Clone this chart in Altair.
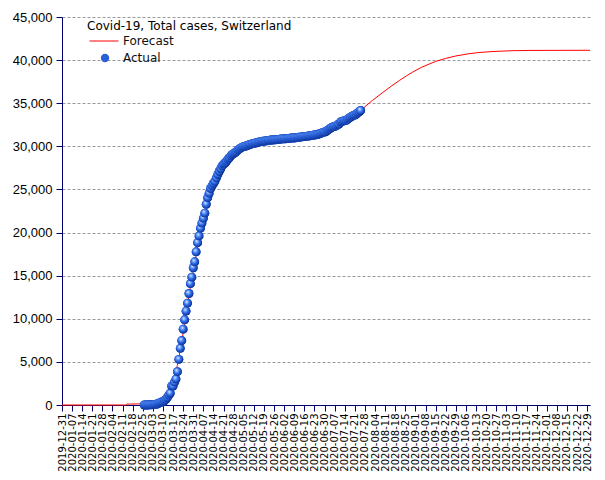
import altair as alt
import pandas as pd

# ---------------- data ----------------
actual_dates = [
    "2020-02-26", "2020-02-27", "2020-02-28", "2020-02-29", "2020-03-01", "2020-03-02", "2020-03-03",
    "2020-03-04", "2020-03-05", "2020-03-06", "2020-03-07", "2020-03-08", "2020-03-09", "2020-03-10",
    "2020-03-11", "2020-03-12", "2020-03-13", "2020-03-14", "2020-03-15", "2020-03-16", "2020-03-17",
    "2020-03-18", "2020-03-19", "2020-03-20", "2020-03-21", "2020-03-22", "2020-03-23", "2020-03-24",
    "2020-03-25", "2020-03-26", "2020-03-27", "2020-03-28", "2020-03-29", "2020-03-30", "2020-03-31",
    "2020-04-01", "2020-04-02", "2020-04-03", "2020-04-04", "2020-04-05", "2020-04-06", "2020-04-07",
    "2020-04-08", "2020-04-09", "2020-04-10", "2020-04-11", "2020-04-12", "2020-04-13", "2020-04-14",
    "2020-04-15", "2020-04-16", "2020-04-17", "2020-04-18", "2020-04-19", "2020-04-20", "2020-04-21",
    "2020-04-22", "2020-04-23", "2020-04-24", "2020-04-25", "2020-04-26", "2020-04-27", "2020-04-28",
    "2020-04-29", "2020-04-30", "2020-05-01", "2020-05-02", "2020-05-03", "2020-05-04", "2020-05-05",
    "2020-05-06", "2020-05-07", "2020-05-08", "2020-05-09", "2020-05-10", "2020-05-11", "2020-05-12",
    "2020-05-13", "2020-05-14", "2020-05-15", "2020-05-16", "2020-05-17", "2020-05-18", "2020-05-19",
    "2020-05-20", "2020-05-21", "2020-05-22", "2020-05-23", "2020-05-24", "2020-05-25", "2020-05-26",
    "2020-05-27", "2020-05-28", "2020-05-29", "2020-05-30", "2020-05-31", "2020-06-01", "2020-06-02",
    "2020-06-03", "2020-06-04", "2020-06-05", "2020-06-06", "2020-06-07", "2020-06-08", "2020-06-09",
    "2020-06-10", "2020-06-11", "2020-06-12", "2020-06-13", "2020-06-14", "2020-06-15", "2020-06-16",
    "2020-06-17", "2020-06-18", "2020-06-19", "2020-06-20", "2020-06-21", "2020-06-22", "2020-06-23",
    "2020-06-24", "2020-06-25", "2020-06-26", "2020-06-27", "2020-06-28", "2020-06-29", "2020-06-30",
    "2020-07-01", "2020-07-02", "2020-07-03", "2020-07-04", "2020-07-05", "2020-07-06", "2020-07-07",
    "2020-07-08", "2020-07-09", "2020-07-10", "2020-07-11", "2020-07-12", "2020-07-13", "2020-07-14",
    "2020-07-15", "2020-07-16", "2020-07-17", "2020-07-18", "2020-07-19", "2020-07-20", "2020-07-21",
    "2020-07-22", "2020-07-23", "2020-07-24", "2020-07-25",
]
actual_values = [
    1, 1, 1, 8, 18, 27, 42,
    56, 90, 114, 214, 268, 337, 374,
    491, 652, 858, 1139, 1359, 2200, 2200,
    2650, 3010, 3863, 5294, 6575, 7474, 8795,
    9877, 10897, 11811, 12928, 14076, 14829, 15922,
    16605, 17768, 18827, 19606, 20505, 21100, 21657,
    22253, 23280, 24051, 24551, 25107, 25415, 25688,
    25936, 26336, 26732, 27078, 27404, 27740, 27944,
    28063, 28268, 28496, 28677, 28894, 29061, 29164,
    29264, 29407, 29586, 29705, 29817, 29905, 29981,
    30009, 30060, 30126, 30207, 30251, 30305, 30344,
    30380, 30413, 30463, 30514, 30572, 30587, 30597,
    30618, 30658, 30694, 30707, 30725, 30736, 30746,
    30761, 30776, 30796, 30828, 30845, 30862, 30871,
    30874, 30893, 30913, 30936, 30956, 30965, 30972,
    30988, 31011, 31044, 31063, 31094, 31117, 31131,
    31154, 31187, 31200, 31235, 31243, 31292, 31310,
    31332, 31376, 31428, 31486, 31555, 31617, 31652,
    31714, 31851, 31967, 32101, 32198, 32268, 32315,
    32369, 32498, 32586, 32817, 32883, 32946, 32976,
    33016, 33148, 33290, 33382, 33492, 33591, 33634,
    33742, 33883, 34000, 34154,
]

forecast_dates = [
    "2019-12-31", "2020-02-13", "2020-02-14", "2020-02-28", "2020-03-04", "2020-03-08", "2020-03-11",
    "2020-03-14", "2020-03-17", "2020-03-20", "2020-03-23", "2020-03-26", "2020-03-29", "2020-04-01",
    "2020-04-04", "2020-04-07", "2020-04-10", "2020-04-14", "2020-04-19", "2020-04-25", "2020-05-02",
    "2020-05-10", "2020-05-18", "2020-05-27", "2020-06-06", "2020-06-16", "2020-06-24", "2020-07-01",
    "2020-07-08", "2020-07-15", "2020-07-22", "2020-07-27", "2020-08-02", "2020-08-09", "2020-08-15",
    "2020-08-21", "2020-08-26", "2020-08-30", "2020-09-05", "2020-09-15", "2020-09-22", "2020-09-29",
    "2020-10-08", "2020-10-15", "2020-10-24", "2020-11-07", "2020-11-20", "2020-12-31",
]
forecast_values = [
    0, 0, 100, 150, 350, 650, 1100,
    1800, 2900, 4600, 7300, 10600, 13700, 16500,
    19200, 21500, 23500, 25500, 27300, 28700, 29700,
    30200, 30400, 30600, 30800, 31050, 31300, 31750,
    32400, 33050, 33750, 34450, 35300, 36200, 36950,
    37650, 38200, 38600, 39150, 39850, 40200, 40480,
    40740, 40880, 40990, 41090, 41125, 41140,
]

x_tick_labels = [
    "2019-12-31", "2020-01-07", "2020-01-14", "2020-01-21", "2020-01-28", "2020-02-04", "2020-02-11",
    "2020-02-18", "2020-02-25", "2020-03-03", "2020-03-10", "2020-03-17", "2020-03-24", "2020-03-31",
    "2020-04-07", "2020-04-14", "2020-04-21", "2020-04-28", "2020-05-05", "2020-05-12", "2020-05-19",
    "2020-05-26", "2020-06-02", "2020-06-09", "2020-06-16", "2020-06-23", "2020-06-30", "2020-07-07",
    "2020-07-14", "2020-07-21", "2020-07-28", "2020-08-04", "2020-08-11", "2020-08-18", "2020-08-25",
    "2020-09-01", "2020-09-08", "2020-09-15", "2020-09-22", "2020-09-29", "2020-10-06", "2020-10-13",
    "2020-10-20", "2020-10-27", "2020-11-03", "2020-11-10", "2020-11-17", "2020-11-24", "2020-12-01",
    "2020-12-08", "2020-12-15", "2020-12-22", "2020-12-29",
]
y_tick_values = [0, 5000, 10000, 15000, 20000, 25000, 30000, 35000, 40000, 45000]
x_domain = ["2019-12-31", "2020-12-31"]


def to_ms(s):
    return int(pd.Timestamp(s, tz="UTC").value // 10**6)


actual_df = pd.DataFrame({"date": actual_dates, "cases": actual_values, "series": "Actual"})
forecast_df = pd.DataFrame({"date": forecast_dates, "cases": forecast_values, "series": "Forecast"})

NAVY = "#00006e"

x_enc = alt.X(
    "date:T",
    title=None,
    scale=alt.Scale(type="utc", domain=[to_ms(d) for d in x_domain]),
    axis=alt.Axis(
        values=[to_ms(d) for d in x_tick_labels],
        format="%Y-%m-%d",
        labelAngle=270,
        labelFont="DejaVu Sans",
        labelFontSize=10,
        labelFontWeight="normal",
        labelColor="black",
        labelPadding=2,
        labelOverlap=False,
        labelFlush=False,
        tickSize=6,
        tickColor=NAVY,
        domainColor=NAVY,
        grid=False,
    ),
)
y_enc = alt.Y(
    "cases:Q",
    title=None,
    scale=alt.Scale(domain=[0, 45000], nice=False, zero=True),
    axis=alt.Axis(
        values=y_tick_values,
        format=",d",
        labelFont="Liberation Sans",
        labelFontSize=13,
        labelColor="black",
        labelPadding=4,
        tickSize=6,
        tickColor=NAVY,
        domainColor=NAVY,
        grid=True,
        gridColor="#9a9a9a",
        gridDash=[3, 2],
        gridWidth=1,
    ),
)

forecast_line = alt.Chart(forecast_df).mark_line(strokeWidth=1).encode(
    x=x_enc,
    y=y_enc,
    stroke=alt.Stroke(
        "series:N",
        scale=alt.Scale(domain=["Forecast"], range=["#ff0000"]),
        legend=alt.Legend(
            title="Covid-19, Total cases, Switzerland",
            orient="none",
            legendX=25,
            legendY=4,
            padding=0,
            titleFont="DejaVu Sans",
            titleFontSize=12,
            titleFontWeight="normal",
            titleColor="black",
            titleLimit=400,
            titlePadding=-7,
            labelFont="DejaVu Sans",
            labelFontSize=12,
            labelColor="#111111",
            labelOffset=4,
            symbolType="stroke",
            symbolSize=841,
            symbolStrokeWidth=1,
            symbolOffset=2,
        ),
    ),
)

actual_base = alt.Chart(actual_df).mark_circle(size=80, opacity=1).encode(
    x=x_enc,
    y=y_enc,
    fill=alt.Fill(
        "series:N",
        scale=alt.Scale(domain=["Actual"], range=["#2a5fd8"]),
        legend=alt.Legend(
            title=None,
            orient="none",
            legendX=37,
            legendY=35,
            padding=0,
            labelFont="DejaVu Sans",
            labelFontSize=12,
            labelColor="#111111",
            labelOffset=12,
            symbolType="circle",
            symbolSize=70,
            symbolOffset=0,
        ),
    ),
)

sphere = alt.RadialGradient(
    gradient="radial",
    stops=[
        alt.GradientStop(color="#ffffff", offset=0),
        alt.GradientStop(color="#8fb6ff", offset=0.2),
        alt.GradientStop(color="#2f6de8", offset=0.5),
        alt.GradientStop(color="#1440b0", offset=0.8),
        alt.GradientStop(color="#061a5c", offset=1),
    ],
    x1=0.38, y1=0.32, r1=0,
    x2=0.45, y2=0.45, r2=0.62,
)

actual_spheres = alt.Chart(actual_df).mark_circle(size=80, opacity=1, fill=sphere).encode(
    x=x_enc,
    y=y_enc,
)

chart = alt.layer(forecast_line, actual_base, actual_spheres).properties(
    width=528,
    height=388,
    padding={"left": 62, "top": 17, "right": 15, "bottom": 75},
    autosize=alt.AutoSizeParams(type="none"),
    background="white",
).configure_view(stroke=None)

chart.save("out.html", embed_options={"renderer": "svg", "actions": False})
